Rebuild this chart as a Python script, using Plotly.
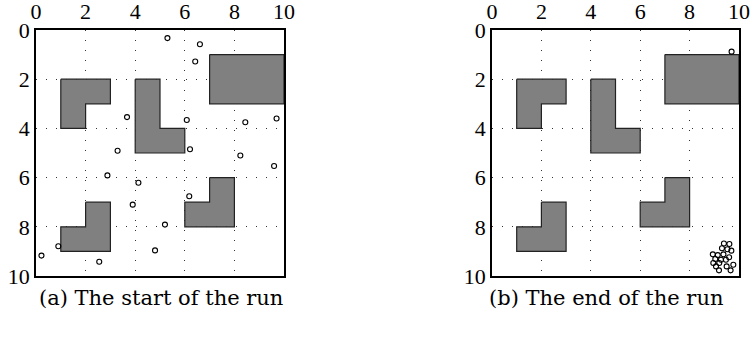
import plotly.graph_objects as go

# Obstacles (polygon vertices in data coords)
obstacles = [
    ([1, 3, 3, 2, 2, 1, 1], [2, 2, 3, 3, 4, 4, 2]),
    ([4, 5, 5, 6, 6, 4, 4], [2, 2, 4, 4, 5, 5, 2]),
    ([7, 10, 10, 7, 7], [1, 1, 3, 3, 1]),
    ([7, 8, 8, 6, 6, 7, 7], [6, 6, 8, 8, 7, 7, 6]),
    ([2, 3, 3, 1, 1, 2, 2], [7, 7, 9, 9, 8, 8, 7]),
]

start_x = [5.30, 6.61, 6.42, 3.67, 6.08, 8.44, 9.70, 3.29, 6.21, 8.24,
           9.60, 2.88, 4.13, 6.18, 3.90, 5.20, 0.90, 0.22, 4.80, 2.55]
start_y = [0.33, 0.58, 1.28, 3.54, 3.66, 3.75, 3.60, 4.91, 4.85, 5.10,
           5.53, 5.91, 6.21, 6.76, 7.10, 7.91, 8.79, 9.17, 8.96, 9.42]

end_x = [9.70, 9.39, 9.61, 9.31, 9.53, 9.69, 8.94, 9.14, 9.37, 9.60,
         9.04, 9.27, 9.47, 8.96, 9.20, 9.77, 9.07, 9.50, 9.19, 9.66]
end_y = [0.88, 8.68, 8.70, 8.87, 8.91, 8.97, 9.12, 9.15, 9.12, 9.24,
         9.31, 9.34, 9.34, 9.47, 9.47, 9.54, 9.61, 9.61, 9.77, 9.77]

tick_vals = [0, 2, 4, 6, 8, 10]
tick_text = ["0", "2", "4", "6", "8", "10"]
captions = ["(a) The start of the run", "(b) The end of the run"]

FONT = "Liberation Serif"
CAP_FONT = "DejaVu Serif"
fig = go.Figure()

panels = [("x", "y", start_x, start_y), ("x2", "y2", end_x, end_y)]
for xa, ya, px, py in panels:
    for ox, oy in obstacles:
        fig.add_trace(go.Scatter(x=ox, y=oy, xaxis=xa, yaxis=ya, mode="lines",
                                 fill="toself", fillcolor="#808080",
                                 line=dict(color="#222222", width=1.2),
                                 hoverinfo="skip", showlegend=False))
    fig.add_trace(go.Scatter(x=px, y=py, xaxis=xa, yaxis=ya, mode="markers",
                             marker=dict(symbol="circle-open", size=5,
                                         color="black", line=dict(width=1.1)),
                             showlegend=False))

W, H = 753, 337
L, R, T, B = 36, 739, 29.5, 276   # plot frame edges in figure px
PW, PH = R - L, B - T
domains_x = [[0, 248 / PW], [(492 - 36) / PW, 1]]

axis_common = dict(tickvals=tick_vals, ticktext=tick_text, automargin=False,
                   showgrid=True, gridcolor="#333333", gridwidth=1,
                   griddash="1px,9px", zeroline=False, showline=True,
                   mirror=True, linecolor="black", linewidth=1.5,
                   ticks="", ticklabelstandoff=0,
                   tickfont=dict(family=FONT, size=22, color="black"))

fig.update_layout(
    width=W, height=H,
    margin=dict(l=L, r=W - R, t=T, b=H - B, pad=0),
    paper_bgcolor="white", plot_bgcolor="white",
    xaxis=dict(domain=domains_x[0], side="top", anchor="y", range=[0, 10], **axis_common),
    yaxis=dict(domain=[0, 1], anchor="x", range=[10, 0], **axis_common),
    xaxis2=dict(domain=domains_x[1], side="top", anchor="y2", range=[0, 10], **axis_common),
    yaxis2=dict(domain=[0, 1], anchor="x2", range=[10, 0], **axis_common),
)

cap_px = [(161, 298), (606, 298)]
for (cx, cy), txt in zip(cap_px, captions):
    fig.add_annotation(x=(cx - L) / PW, y=1 - (cy - T) / PH,
                       xref="paper", yref="paper", yanchor="middle",
                       text=txt, showarrow=False,
                       font=dict(family=CAP_FONT, size=21, color="black"),
                       xanchor="center")

fig.write_html("out.html", config={"displayModeBar": False},
               post_script="document.body.style.margin='0';document.body.style.padding='0';")
